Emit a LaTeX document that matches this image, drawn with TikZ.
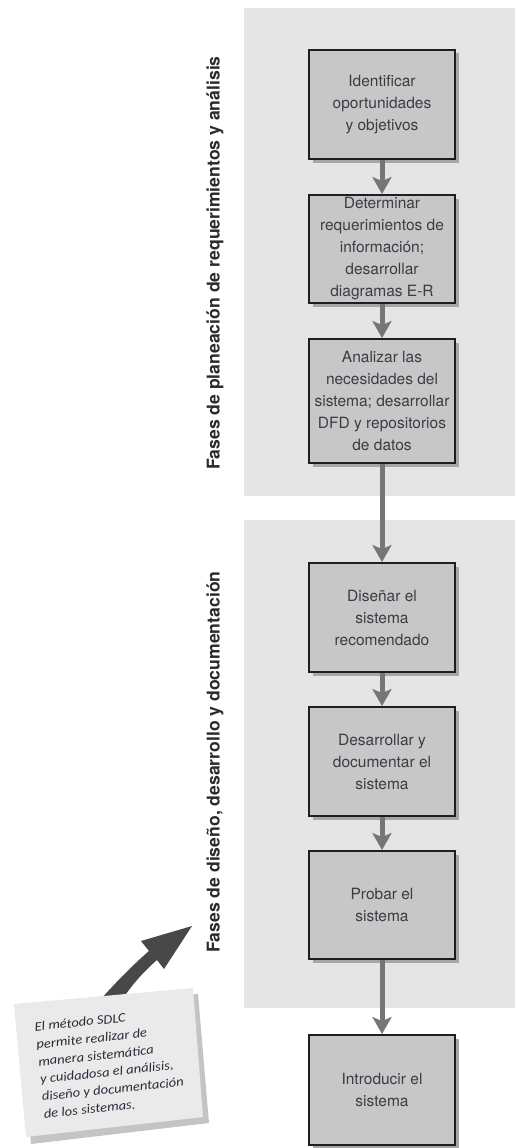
\documentclass[tikz,border=0pt]{standalone}
\usepackage{fontspec}
\setmainfont{TeX Gyre Heros}
\newfontfamily\notefont{Carlito}[FakeStretch=1.12]
\usetikzlibrary{arrows.meta,shadows}
\definecolor{panelgray}{HTML}{E5E5E5}
\definecolor{boxgray}{HTML}{C7C7C7}
\definecolor{boxline}{HTML}{1E1E1E}
\definecolor{flowgray}{HTML}{767676}
\definecolor{textgray}{HTML}{3E3A46}
\definecolor{labelgray}{HTML}{2B2B2B}
\definecolor{paper}{HTML}{EAEAEA}
\definecolor{papershade}{HTML}{C4C4C4}
\definecolor{pointer}{HTML}{484848}
\definecolor{notetextcol}{HTML}{2E2A3A}

\begin{document}
\begin{tikzpicture}[x=1pt,y=-1pt,
  stepbox/.style={draw=boxline, line width=1.8pt, fill=boxgray,
    minimum width=146pt, inner sep=2pt, align=center, text=textgray,
    font=\fontsize{15.5}{22}\selectfont,
    drop shadow={shadow xshift=3.5pt, shadow yshift=-3.5pt, fill=black!35, opacity=1}},
  flow/.style={draw=flowgray, line width=5pt,
    -{Stealth[length=17pt,width=19pt,inset=4pt]}},
  phase/.style={rotate=90, text=labelgray, inner sep=0pt,
    font=\bfseries\fontsize{17.6}{20}\selectfont},
  panel/.style={fill=panelgray, draw=none},
  notetext/.style={align=left, text=notetextcol, inner sep=0pt,
    font=\notefont\itshape\fontsize{13}{17.5}\selectfont}]

\useasboundingbox (0,0) rectangle (515,1148);
\fill[white] (0,0) rectangle (515,1148);

% phase panels
\fill[panel] (244,8) rectangle (515,496);
\fill[panel] (244,520) rectangle (515,1008);

% phase labels
\node[phase] (p1) at (215,263) {Fases de planeación de requerimientos y análisis};
\node[phase] (p2) at (215,762) {Fases de diseño, desarrollo y documentación};

% steps
\node[stepbox, minimum height=109pt] (b1) at (382,104.5) {Identificar\\oportunidades\\y objetivos};
\node[stepbox, minimum height=108pt] (b2) at (382,249) {Determinar\\requerimientos de\\información;\\desarrollar\\diagramas E-R};
\node[stepbox, minimum height=124pt] (b3) at (382,401) {Analizar las\\necesidades del\\sistema; desarrollar\\DFD y repositorios\\de datos};
\node[stepbox, minimum height=109pt] (b4) at (382,617.5) {Diseñar el\\sistema\\recomendado};
\node[stepbox, minimum height=109pt] (b5) at (382,761.5) {Desarrollar y\\documentar el\\sistema};
\node[stepbox, minimum height=108pt] (b6) at (382,905) {Probar el\\sistema};
\node[stepbox, minimum height=110pt] (b7) at (382,1090) {Introducir el\\sistema};

% flow between steps
\draw[flow] (b1.south) -- (b2.north);
\draw[flow] (b2.south) -- (b3.north);
\draw[flow] (b3.south) -- (b4.north);
\draw[flow] (b4.south) -- (b5.north);
\draw[flow] (b5.south) -- (b6.north);
\draw[flow] (b6.south) -- (b7.north);

% pointer from the note towards the lower phase label
\fill[pointer] (100,1000) .. controls (118,980) and (135,963) .. (149,951)
  -- (141,941) -- (192,926) -- (164,969) -- (157,960)
  .. controls (143,972) and (131,986) .. (122,1000) -- cycle;

% note paper
\fill[papershade] (20,1010) -- (198,994) -- (209,1123) -- (31,1144) -- cycle;
\fill[paper] (14,1004) -- (193,988) -- (203,1117) -- (26,1137) -- cycle;
\node[notetext, rotate=6] (note) at (110,1063)
  {El método SDLC\\permite realizar de\\manera sistemática\\y cuidadosa el análisis,\\diseño y documentación\\de los sistemas.};
\end{tikzpicture}
\end{document}
